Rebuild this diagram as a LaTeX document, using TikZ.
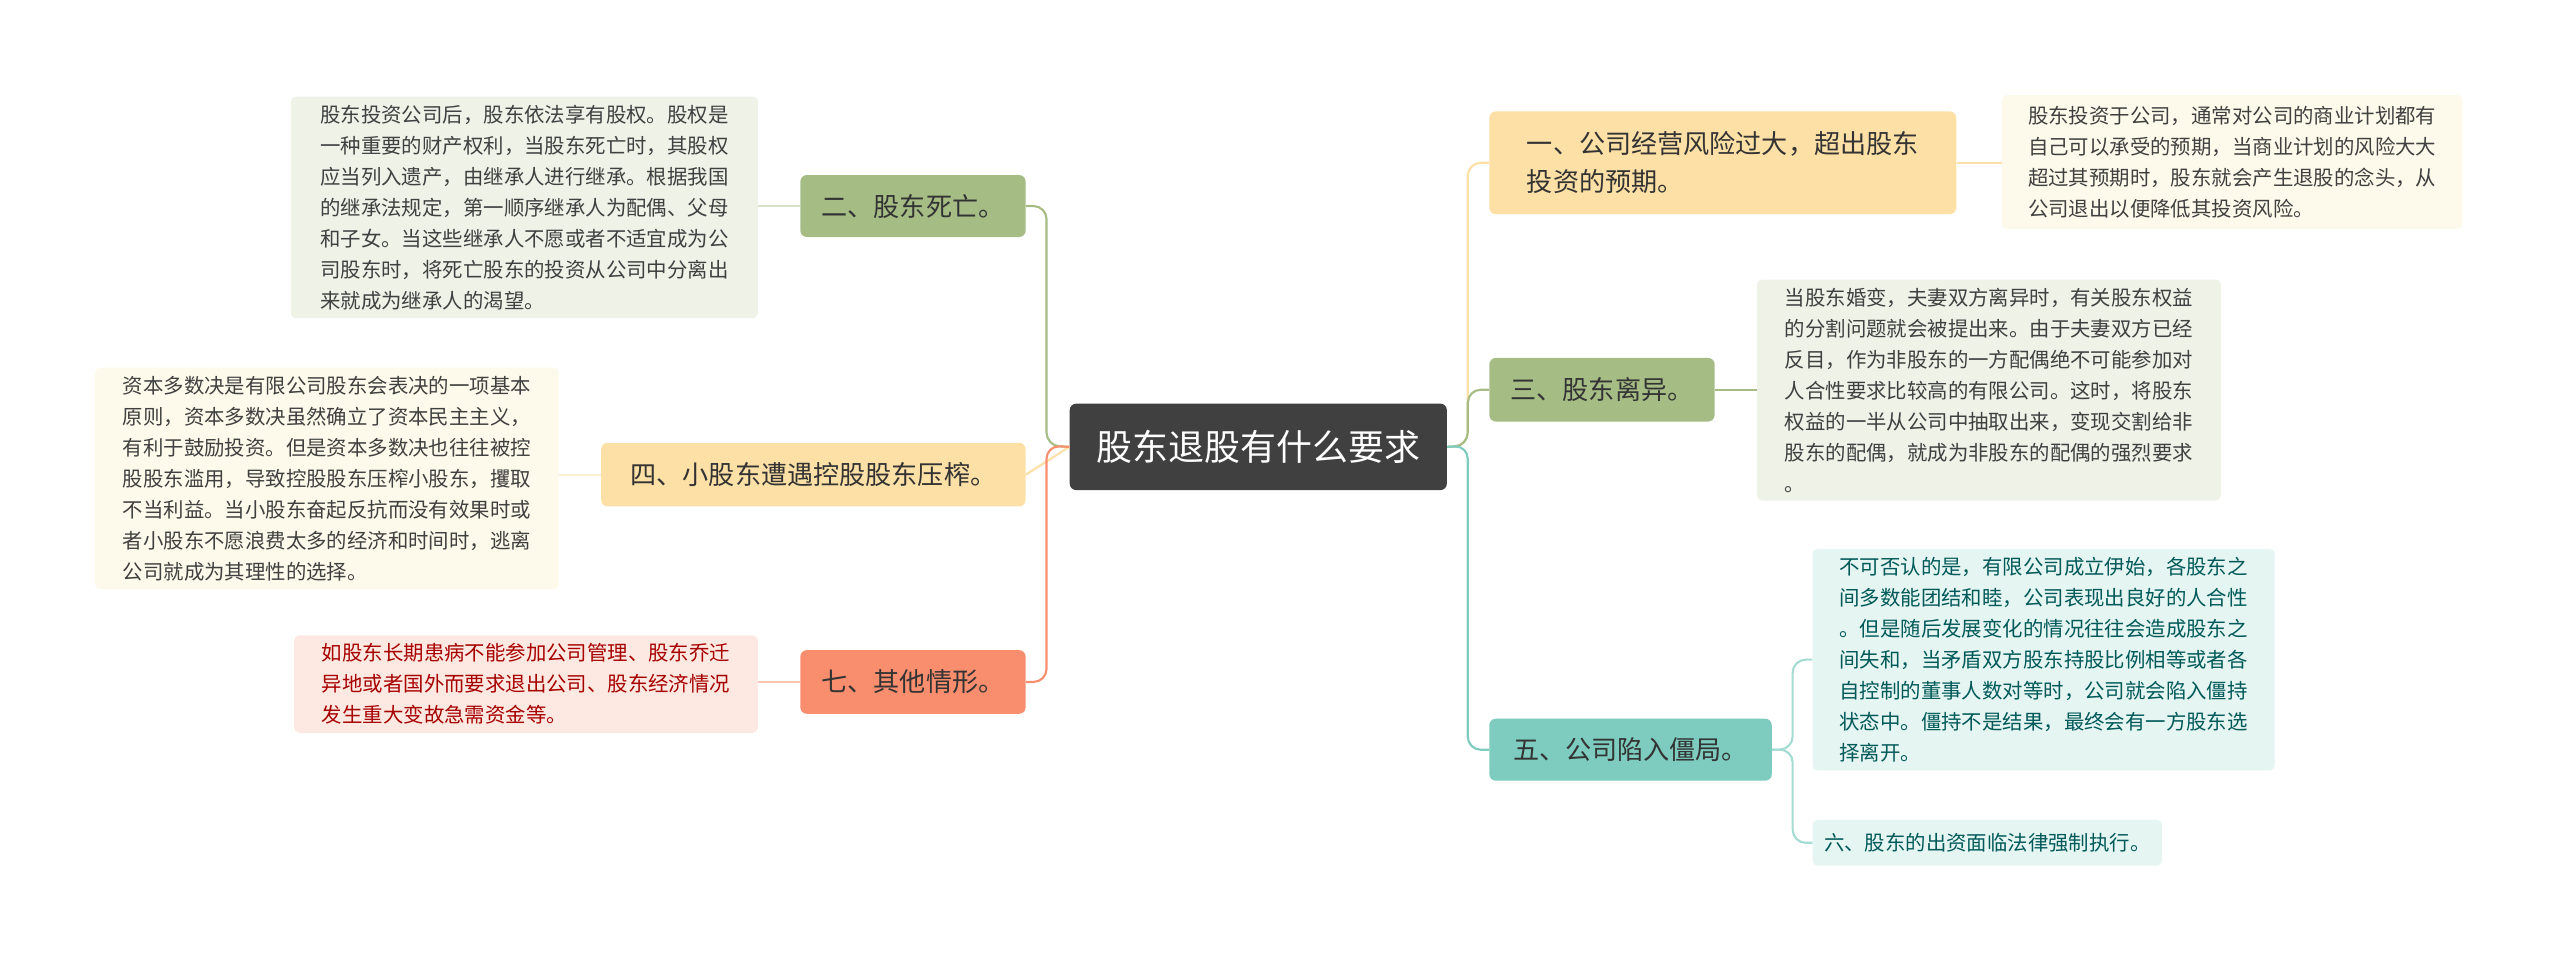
\documentclass[tikz,border=0pt]{standalone}
\usepackage{fontspec}
\setmainfont{Noto Sans CJK SC}
\begin{document}
\begin{tikzpicture}[x=1pt,y=1pt,
 leaf/.style={anchor=north west,rounded corners=3,inner xsep=7,inner ysep=5,align=left,font=\fontsize{12.5}{19}\selectfont,text=black!75},
 br/.style={anchor=north west,rounded corners=4,inner xsep=9,align=left,font=\fontsize{16}{23}\selectfont,text=black!80},
 con/.style={line width=1.3pt,rounded corners=8}]
\definecolor{yel}{HTML}{FCE0A6}\definecolor{yell}{HTML}{FEFAEB}
\definecolor{grn}{HTML}{A5BD85}\definecolor{grnl}{HTML}{EEF2E7}
\definecolor{tea}{HTML}{7DCCBF}\definecolor{teal2}{HTML}{E5F5F1}
\definecolor{ora}{HTML}{F98E6E}\definecolor{oral}{HTML}{FDE8E2}
\useasboundingbox (0,0) rectangle (1568,-589);
\node[fill=black!75,text=white,rounded corners=4,minimum width=231,minimum height=53,font=\fontsize{22}{26}\selectfont,anchor=north west] (c) at (655,-247) {股东退股有什么要求};
% right
\node[br,fill=yel,minimum width=286,minimum height=63] (b1) at (912,-68) {一、公司经营风险过大，超出股东\\投资的预期。};
\node[br,fill=grn,minimum width=138,minimum height=39] (b3) at (912,-219) {三、股东离异。};
\node[br,fill=tea,minimum width=173,minimum height=38] (b5) at (912,-440) {五、公司陷入僵局。};
\node[leaf,fill=yell,minimum width=282,minimum height=82] (l1) at (1226,-58) {股东投资于公司，通常对公司的商业计划都有\\自己可以承受的预期，当商业计划的风险大大\\超过其预期时，股东就会产生退股的念头，从\\公司退出以便降低其投资风险。};
\node[leaf,fill=grnl,minimum width=284] (l3) at (1076,-171) {当股东婚变，夫妻双方离异时，有关股东权益\\的分割问题就会被提出来。由于夫妻双方已经\\反目，作为非股东的一方配偶绝不可能参加对\\人合性要求比较高的有限公司。这时，将股东\\权益的一半从公司中抽取出来，变现交割给非\\股东的配偶，就成为非股东的配偶的强烈要求\\。};
\node[leaf,fill=teal2,text=teal!70!black,minimum width=283] (l5) at (1110,-336) {不可否认的是，有限公司成立伊始，各股东之\\间多数能团结和睦，公司表现出良好的人合性\\。但是随后发展变化的情况往往会造成股东之\\间失和，当矛盾双方股东持股比例相等或者各\\自控制的董事人数对等时，公司就会陷入僵持\\状态中。僵持不是结果，最终会有一方股东选\\择离开。};
\node[leaf,fill=teal2,text=teal!70!black,minimum height=28] (l6) at (1110,-502) {六、股东的出资面临法律强制执行。};
% left
\node[br,fill=grn,minimum width=138,minimum height=38] (b2) at (490,-107) {二、股东死亡。};
\node[br,fill=yel,minimum width=260,minimum height=39] (b4) at (368,-271) {四、小股东遭遇控股股东压榨。};
\node[br,fill=ora,minimum width=138,minimum height=39] (b7) at (490,-398) {七、其他情形。};
\node[leaf,fill=grnl,minimum width=286] (l2) at (178,-59) {股东投资公司后，股东依法享有股权。股权是\\一种重要的财产权利，当股东死亡时，其股权\\应当列入遗产，由继承人进行继承。根据我国\\的继承法规定，第一顺序继承人为配偶、父母\\和子女。当这些继承人不愿或者不适宜成为公\\司股东时，将死亡股东的投资从公司中分离出\\来就成为继承人的渴望。};
\node[leaf,fill=yell,minimum width=284] (l4) at (58,-225) {资本多数决是有限公司股东会表决的一项基本\\原则，资本多数决虽然确立了资本民主主义，\\有利于鼓励投资。但是资本多数决也往往被控\\股股东滥用，导致控股股东压榨小股东，攫取\\不当利益。当小股东奋起反抗而没有效果时或\\者小股东不愿浪费太多的经济和时间时，逃离\\公司就成为其理性的选择。};
\node[leaf,fill=oral,text=red!65!black,minimum width=284] (l7) at (180,-389) {如股东长期患病不能参加公司管理、股东乔迁\\异地或者国外而要求退出公司、股东经济情况\\发生重大变故急需资金等。};
% connectors
\draw[con,yel] (c.east) -- (899,-273) |- (b1.west);
\draw[con,grn] (c.east) -- (899,-273) |- (b3.west);
\draw[con,tea] (c.east) -- (899,-273) |- (b5.west);
\draw[con,grn] (c.west) -- (641,-273) |- (b2.east);
\draw[con,yel] (c.west) -- (b4.east);
\draw[con,ora] (c.west) -- (641,-273) |- (b7.east);
\draw[con,yel] (b1.east) -- (l1.west|-b1.east);
\draw[con,grn] (b3.east) -- (l3.west|-b3.east);
\draw[con,tea!70] (b5.east) -- (1098,-459) |- (l5.west);
\draw[con,tea!70] (b5.east) -- (1098,-459) |- (l6.west);
\draw[con,grnl!70!grn] (l2.east|-b2.west) -- (b2.west);
\draw[con,yell!60!yel] (l4.east|-b4.west) -- (b4.west);
\draw[con,oral!60!ora] (l7.east|-b7.west) -- (b7.west);
\end{tikzpicture}
\end{document}
